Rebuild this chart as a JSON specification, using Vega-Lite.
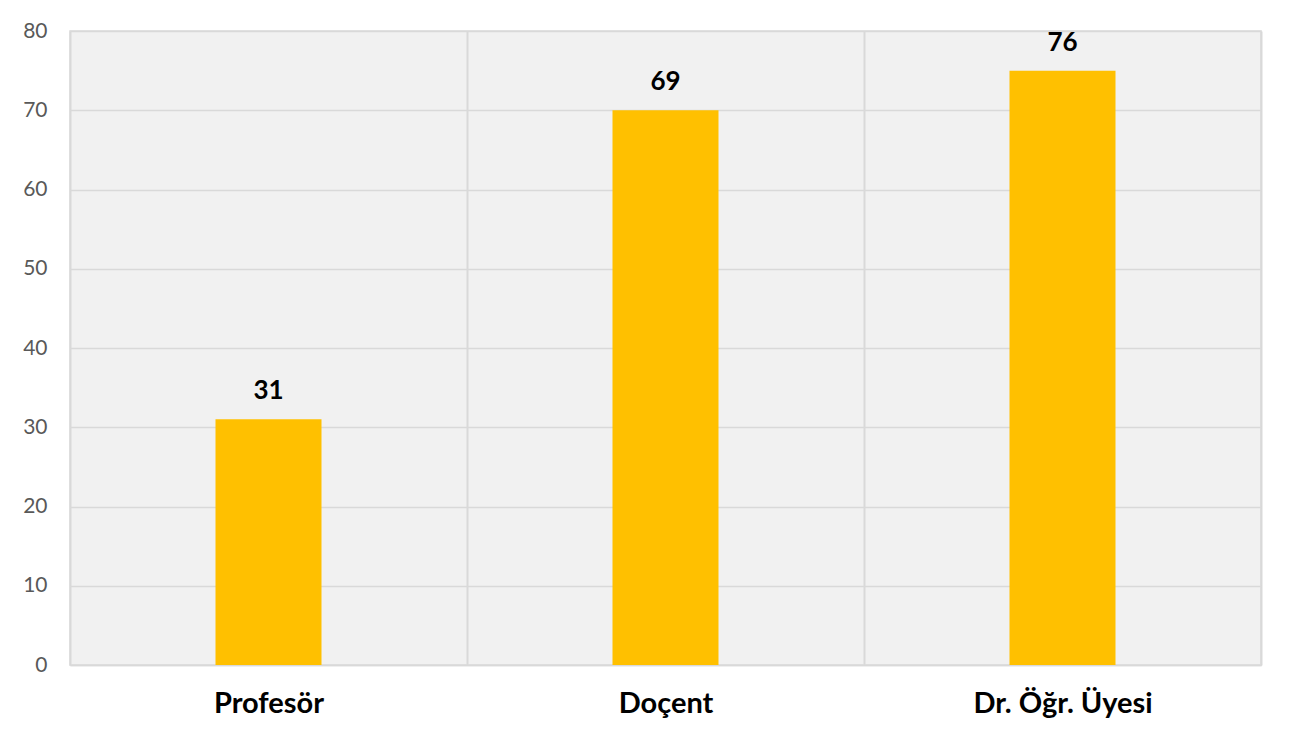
{
  "$schema": "https://vega.github.io/schema/vega-lite/v6.json",
  "autosize": {"type": "none"},
  "width": 1191,
  "height": 634,
  "padding": {"left": 70, "top": 31, "right": 34, "bottom": 77},
  "background": "white",
  "config": {
    "view": {"fill": "#f1f1f1", "stroke": "#d9d9d9", "strokeWidth": 1.5},
    "font": "Lato"
  },
  "data": {
    "values": [
      {"kategori": "Profesör", "deger": 31, "etiket": "31"},
      {"kategori": "Doçent", "deger": 70, "etiket": "69"},
      {"kategori": "Dr. Öğr. Üyesi", "deger": 75, "etiket": "76"}
    ]
  },
  "encoding": {
    "x": {
      "field": "kategori",
      "type": "nominal",
      "sort": null,
      "title": null,
      "scale": {"paddingInner": 0, "paddingOuter": 0},
      "axis": {
        "labelAngle": 0,
        "labelFont": "Lato",
        "labelFontSize": 29,
        "labelFontWeight": "bold",
        "labelColor": "#000000",
        "labelPadding": 24,
        "ticks": false,
        "domainColor": "#d9d9d9",
        "domainWidth": 1.5,
        "grid": true,
        "gridColor": "#d9d9d9",
        "gridWidth": 2,
        "tickBand": "extent"
      }
    },
    "y": {
      "field": "deger",
      "type": "quantitative",
      "title": null,
      "scale": {"domain": [0, 80], "nice": false},
      "axis": {
        "values": [0, 10, 20, 30, 40, 50, 60, 70, 80],
        "labelFont": "Lato",
        "labelFontSize": 21,
        "labelColor": "#595959",
        "labelPadding": 23,
        "ticks": false,
        "domain": false,
        "gridColor": "#d9d9d9",
        "gridWidth": 1.5
      }
    }
  },
  "layer": [
    {"mark": {"type": "bar", "color": "#FFC000", "width": {"band": 0.267}}},
    {
      "mark": {"type": "text", "baseline": "alphabetic", "dy": -20, "fontSize": 26, "fontWeight": "bold", "color": "#000000", "font": "Lato"},
      "encoding": {"text": {"field": "etiket"}}
    }
  ]
}
